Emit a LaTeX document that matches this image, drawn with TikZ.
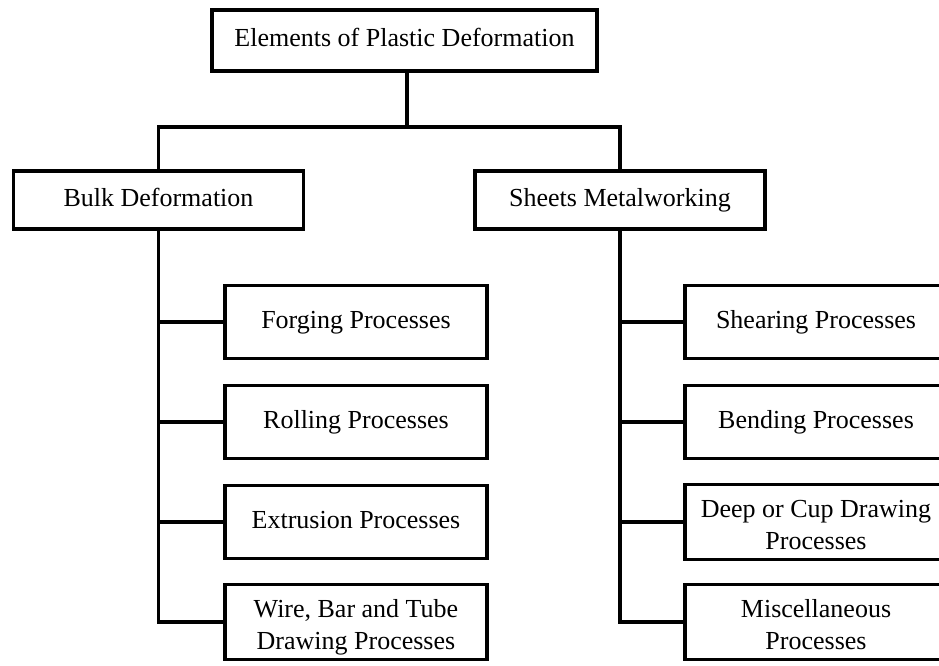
\documentclass[tikz,border=0pt]{standalone}
\usepackage{fontspec}
\setmainfont{Liberation Serif}
\newcommand\tallstrut{\rule{0pt}{33pt}}
\begin{document}
\begin{tikzpicture}[x=1pt, y=-1pt, line width=3.5pt,
  box/.style={draw, align=center, inner sep=0pt, minimum width=262pt, minimum height=73pt,
    font=\fontsize{26}{32}\selectfont, execute at begin node=\strut},
  head/.style={box, minimum width=290pt, minimum height=58pt}]
\useasboundingbox (0,0) rectangle (939,666);
\node[box, minimum width=385pt, minimum height=61pt] (top) at (404.5,40.5) {Elements of Plastic Deformation};
\node[head] (bulk) at (158.5,200) {Bulk Deformation};
\node[head] (sheet) at (620,200) {Sheets Metalworking};
\node[box] (forge) at (356,322) {Forging Processes};
\node[box] (roll) at (356,422) {Rolling Processes};
\node[box] (extr) at (356,522) {Extrusion Processes};
\node[box] (wire) at (356,622) {\tallstrut Wire, Bar and Tube\\Drawing Processes};
\node[box] (shear) at (816,322) {Shearing Processes};
\node[box] (bend) at (816,422) {Bending Processes};
\node[box] (cup) at (816,522) {\tallstrut Deep or Cup Drawing\\Processes};
\node[box] (misc) at (816,622) {\tallstrut Miscellaneous\\Processes};
\coordinate (bus) at (407,127);
\draw (top.south -| bus) -- (bus);
\draw (bulk.north) |- (bus) -| (sheet.north);
\draw (bulk.south) -- (bulk.south |- wire.west) -- (wire.west);
\draw (sheet.south) -- (sheet.south |- misc.west) -- (misc.west);
\foreach \n in {forge,roll,extr}
  \draw (bulk.south |- \n.west) -- (\n.west);
\foreach \n in {shear,bend,cup}
  \draw (sheet.south |- \n.west) -- (\n.west);
\end{tikzpicture}
\end{document}
